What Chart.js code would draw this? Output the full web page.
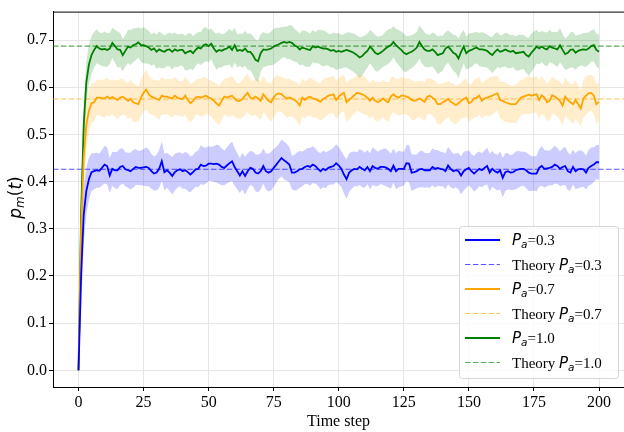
<!DOCTYPE html>
<html>
<head>
<meta charset="utf-8">
<script src="https://cdn.jsdelivr.net/npm/chart.js@4.4.1/dist/chart.umd.min.js"></script>
<style>
  body { margin: 0; background: #fff; }
</style>
</head>
<body>
<canvas id="chart" width="624" height="432"></canvas>
<script>
// Time steps 0..200 and the tick labels
const steps = Array.from({ length: 201 }, (_, i) => i);
const xTicks = [0, 25, 50, 75, 100, 125, 150, 175, 200];
const yTicks = [0.0, 0.1, 0.2, 0.3, 0.4, 0.5, 0.6, 0.7];

const paLabels = ['0.3', '0.7', '1.0'];
const theory = [0.426, 0.575, 0.687];

// mean p_m(t), P_a = 0.3
const meanPa03 = [
  0, .20, .33, .38, .405, .42, .422, .424, .423, .429,
  .436, .433, .413, .427, .424, .424, .431, .433, .426, .424,
  .422, .427, .431, .429, .429, .430, .431, .429, .422, .417,
  .419, .427, .443, .420, .424, .419, .412, .420, .424, .426,
  .422, .424, .420, .415, .420, .426, .427, .436, .433, .434,
  .438, .438, .437, .438, .436, .431, .429, .434, .439, .443,
  .431, .422, .413, .422, .412, .422, .429, .427, .419, .417,
  .422, .433, .422, .419, .422, .429, .436, .443, .450, .445,
  .441, .436, .419, .419, .422, .426, .427, .431, .433, .431,
  .436, .433, .427, .422, .427, .424, .429, .431, .433, .439,
  .434, .427, .415, .405, .419, .424, .427, .426, .431, .427,
  .424, .431, .422, .433, .429, .427, .431, .431, .430, .427,
  .422, .434, .422, .427, .427, .427, .439, .438, .419, .420,
  .422, .426, .427, .424, .424, .424, .431, .427, .429, .427,
  .426, .422, .434, .427, .422, .424, .422, .413, .422, .426,
  .429, .422, .417, .422, .427, .424, .429, .433, .419, .427,
  .422, .419, .424, .408, .420, .422, .419, .420, .424, .426,
  .427, .427, .424, .419, .417, .417, .417, .429, .433, .427,
  .428, .429, .431, .436, .433, .427, .431, .433, .422, .419,
  .431, .422, .426, .427, .426, .419, .429, .433, .436, .441,
  .441
];
const stdPa03 = [
  0, .08, .06, .05, .045, .040, .038, .037, .036, .038,
  .040, .039, .037, .036, .038, .040, .039, .037, .036, .037,
  .039, .040, .038, .036, .037, .039, .041, .039, .037, .036,
  .038, .040, .042, .039, .037, .038, .040, .039, .037, .036,
  .037, .039, .040, .038, .036, .037, .039, .041, .040, .038,
  .037, .036, .038, .040, .041, .039, .037, .038, .040, .042,
  .040, .038, .037, .039, .040, .038, .036, .037, .039, .040,
  .038, .037, .038, .040, .041, .040, .038, .037, .039, .040,
  .039, .037, .036, .038, .040, .039, .037, .036, .038, .040,
  .039, .037, .036, .038, .039, .038, .036, .037, .039, .040,
  .039, .038, .040, .042, .041, .039, .037, .036, .038, .039,
  .037, .036, .038, .040, .039, .037, .036, .038, .040, .039,
  .037, .036, .038, .039, .037, .036, .038, .040, .039, .037,
  .036, .038, .039, .037, .036, .037, .039, .040, .038, .037,
  .036, .038, .040, .039, .037, .036, .038, .040, .041, .039,
  .037, .036, .038, .039, .037, .036, .037, .039, .040, .038,
  .037, .038, .040, .042, .040, .038, .037, .038, .040, .039,
  .037, .036, .038, .039, .037, .036, .038, .040, .042, .040,
  .038, .037, .039, .040, .038, .037, .039, .041, .040, .038,
  .037, .038, .040, .039, .037, .036, .038, .039, .037, .036,
  .037
];

// mean p_m(t), P_a = 0.7
const meanPa07 = [
  0, .30, .45, .52, .55, .566, .568, .578, .578, .577,
  .576, .580, .576, .579, .576, .573, .578, .580, .576, .571,
  .575, .568, .566, .564, .578, .588, .595, .585, .580, .578,
  .575, .573, .582, .580, .580, .578, .576, .582, .578, .576,
  .575, .582, .573, .566, .571, .578, .580, .578, .580, .582,
  .578, .576, .571, .566, .561, .571, .580, .578, .580, .582,
  .576, .571, .571, .575, .582, .588, .578, .576, .580, .576,
  .571, .585, .578, .571, .568, .578, .585, .587, .585, .580,
  .576, .578, .576, .573, .569, .561, .578, .573, .578, .580,
  .576, .575, .572, .569, .575, .578, .582, .583, .585, .573,
  .580, .585, .588, .568, .573, .578, .583, .588, .587, .585,
  .582, .578, .571, .578, .571, .568, .571, .576, .571, .568,
  .580, .585, .580, .578, .582, .582, .580, .578, .573, .571,
  .573, .576, .573, .569, .580, .582, .578, .573, .564, .564,
  .568, .571, .575, .569, .566, .562, .566, .571, .575, .578,
  .566, .569, .576, .578, .582, .571, .576, .578, .580, .582,
  .585, .587, .573, .571, .568, .566, .564, .564, .564, .571,
  .578, .580, .582, .584, .582, .584, .585, .573, .583, .578,
  .568, .571, .583, .580, .576, .571, .561, .580, .573, .568,
  .564, .573, .564, .555, .576, .582, .587, .588, .582, .564,
  .569
];
const stdPa07 = [
  0, .07, .06, .05, .045, .042, .040, .038, .037, .039,
  .041, .040, .038, .037, .039, .041, .040, .038, .036, .038,
  .040, .041, .039, .037, .038, .040, .042, .040, .038, .037,
  .039, .041, .040, .038, .037, .039, .041, .040, .038, .036,
  .038, .040, .042, .041, .039, .037, .038, .040, .041, .039,
  .037, .038, .040, .042, .041, .039, .038, .040, .042, .041,
  .039, .037, .038, .040, .041, .040, .038, .037, .039, .041,
  .040, .038, .037, .039, .041, .042, .040, .038, .037, .039,
  .041, .040, .038, .039, .041, .043, .041, .039, .038, .040,
  .041, .039, .038, .040, .042, .041, .039, .038, .040, .041,
  .040, .038, .039, .041, .042, .040, .038, .037, .039, .041,
  .040, .038, .037, .039, .041, .042, .040, .039, .041, .042,
  .040, .038, .037, .039, .040, .039, .038, .040, .042, .041,
  .039, .038, .040, .041, .039, .037, .038, .040, .042, .043,
  .041, .039, .038, .040, .042, .041, .039, .038, .040, .041,
  .039, .038, .040, .041, .040, .038, .037, .039, .041, .040,
  .038, .037, .039, .041, .042, .041, .040, .039, .041, .040,
  .038, .037, .039, .040, .038, .037, .039, .041, .040, .038,
  .039, .041, .040, .038, .039, .041, .043, .041, .039, .040,
  .042, .041, .039, .038, .040, .041, .039, .038, .040, .042,
  .041
];

// mean p_m(t), P_a = 1.0
const meanPa10 = [
  0, .33, .52, .61, .648, .668, .679, .687, .682, .680,
  .681, .679, .682, .694, .687, .680, .679, .668, .677, .686,
  .684, .689, .691, .695, .689, .689, .687, .684, .679, .682,
  .675, .680, .677, .675, .679, .680, .675, .680, .677, .679,
  .679, .672, .675, .677, .672, .679, .684, .682, .689, .691,
  .687, .692, .682, .675, .679, .677, .680, .682, .686, .679,
  .689, .677, .679, .677, .682, .675, .675, .668, .658, .655,
  .672, .680, .679, .680, .682, .686, .689, .691, .694, .696,
  .694, .696, .694, .689, .686, .680, .684, .682, .680, .679,
  .687, .684, .686, .684, .682, .682, .680, .677, .679, .675,
  .677, .675, .677, .679, .677, .675, .672, .668, .663, .666,
  .672, .677, .686, .680, .673, .670, .673, .677, .682, .686,
  .689, .696, .689, .684, .679, .673, .670, .673, .675, .679,
  .684, .696, .687, .680, .677, .677, .680, .675, .668, .670,
  .672, .682, .686, .680, .673, .670, .661, .675, .686, .672,
  .677, .679, .682, .684, .680, .680, .679, .677, .672, .668,
  .675, .680, .675, .677, .680, .677, .675, .677, .672, .673,
  .674, .675, .668, .665, .673, .679, .686, .682, .686, .682,
  .680, .687, .684, .682, .680, .689, .679, .670, .673, .679,
  .680, .673, .677, .679, .680, .679, .682, .687, .689, .679,
  .675
];
const stdPa10 = [
  0, .06, .05, .045, .042, .040, .038, .036, .034, .035,
  .037, .036, .033, .032, .035, .038, .036, .034, .033, .035,
  .037, .036, .034, .032, .035, .038, .037, .035, .033, .034,
  .036, .038, .037, .035, .034, .036, .038, .036, .035, .033,
  .034, .037, .039, .038, .036, .034, .033, .035, .037, .036,
  .034, .033, .035, .038, .037, .035, .034, .036, .038, .039,
  .037, .035, .034, .036, .037, .038, .039, .041, .043, .044,
  .040, .037, .035, .034, .036, .038, .037, .035, .033, .032,
  .034, .036, .037, .035, .033, .034, .036, .038, .037, .035,
  .034, .033, .035, .037, .038, .036, .034, .035, .037, .039,
  .038, .036, .035, .037, .039, .040, .041, .042, .043, .041,
  .038, .036, .035, .037, .038, .037, .035, .034, .036, .037,
  .035, .033, .035, .037, .039, .040, .038, .036, .035, .034,
  .033, .035, .037, .036, .035, .034, .036, .038, .040, .039,
  .037, .035, .034, .036, .038, .040, .042, .039, .036, .035,
  .037, .036, .034, .033, .035, .037, .036, .035, .036, .038,
  .039, .037, .035, .034, .036, .037, .035, .034, .036, .038,
  .037, .036, .038, .040, .041, .039, .036, .034, .033, .035,
  .036, .034, .033, .035, .037, .036, .034, .033, .035, .037,
  .038, .036, .034, .033, .035, .036, .034, .033, .034, .035,
  .036
];

const means = [meanPa03, meanPa07, meanPa10];
const stds = [stdPa03, stdPa07, stdPa10];
const lineColors = ['rgb(0, 0, 255)', 'rgb(255, 165, 0)', 'rgb(0, 128, 0)'];
const theoryColors = ['rgba(0, 0, 255, 0.65)', 'rgba(255, 165, 0, 0.65)', 'rgba(0, 128, 0, 0.65)'];
const bandColors = ['rgba(0, 0, 255, 0.2)', 'rgba(255, 165, 0, 0.2)', 'rgba(0, 128, 0, 0.2)'];

const xMin = -9.8, xMax = 209.6;
const yMin = -0.0353, yMax = 0.7602;

// build the datasets
const datasets = [];
means.forEach((m, k) => {
    datasets.push({
        data: m.map((v, i) => ({ x: steps[i], y: v })),
        borderColor: lineColors[k], borderWidth: 1.8,
        pointRadius: 0, fill: false, order: 0
    });
    datasets.push({
        data: [{ x: xMin, y: theory[k] }, { x: xMax, y: theory[k] }],
        borderColor: theoryColors[k], borderWidth: 1.1, borderDash: [5.5, 2.4],
        pointRadius: 0, fill: false, order: 1
    });
});
means.forEach((m, k) => {
    // upper edge fills down to the next dataset (lower edge)
    datasets.push({
        data: m.map((v, i) => ({ x: steps[i], y: v + stds[k][i] })),
        borderWidth: 0, borderColor: 'transparent', backgroundColor: bandColors[k],
        pointRadius: 0, fill: '+1', order: 2
    });
    datasets.push({
        data: m.map((v, i) => ({ x: steps[i], y: v - stds[k][i] })),
        borderWidth: 0, borderColor: 'transparent',
        pointRadius: 0, fill: false, order: 2
    });
});

const serif = 'Liberation Serif';
const sans = 'DejaVu Sans';

// draws top spine, y axis label and the legend
const extras = {
    id: 'extras',
    afterDraw(chart) {
        const ctx = chart.ctx;
        const area = chart.chartArea;
        ctx.save();

        // top spine
        ctx.strokeStyle = '#000';
        ctx.lineWidth = 1;
        ctx.beginPath();
        ctx.moveTo(area.left, area.top + 0.5);
        ctx.lineTo(area.right, area.top + 0.5);
        ctx.stroke();

        // y label p_m(t)
        ctx.save();
        ctx.translate(21, 197.5);
        ctx.rotate(-Math.PI / 2);
        ctx.fillStyle = '#000';
        ctx.textBaseline = 'alphabetic';
        const parts = [
            { t: 'p', f: 'italic 17px ' + sans, dy: 0 },
            { t: 'm', f: 'italic 12px ' + sans, dy: 3 },
            { t: '(', f: '17px ' + sans, dy: 0 },
            { t: 't', f: 'italic 17px ' + sans, dy: 0 },
            { t: ')', f: '17px ' + sans, dy: 0 }
        ];
        let w = 0;
        parts.forEach(p => { ctx.font = p.f; w += ctx.measureText(p.t).width; });
        let x = -w / 2;
        parts.forEach(p => {
            ctx.font = p.f;
            ctx.fillText(p.t, x, p.dy);
            x += ctx.measureText(p.t).width;
        });
        ctx.restore();

        // legend
        const bx = 459.5, by = 226.5, bw = 159, bh = 152;
        ctx.beginPath();
        ctx.roundRect(bx, by, bw, bh, 3);
        ctx.fillStyle = 'rgba(255,255,255,0.8)';
        ctx.fill();
        ctx.strokeStyle = '#d6d6d6';
        ctx.lineWidth = 1;
        ctx.stroke();

        const rowH = 24.5;
        for (let r = 0; r < 6; r++) {
            const k = Math.floor(r / 2);
            const isTheory = r % 2 === 1;
            const cy = 240 + r * rowH;
            ctx.beginPath();
            ctx.moveTo(465, cy);
            ctx.lineTo(500, cy);
            if (isTheory) {
                ctx.strokeStyle = theoryColors[k];
                ctx.lineWidth = 1.1;
                ctx.setLineDash([5.5, 2.4]);
            } else {
                ctx.strokeStyle = lineColors[k];
                ctx.lineWidth = 1.8;
                ctx.setLineDash([]);
            }
            ctx.stroke();
            ctx.setLineDash([]);

            ctx.fillStyle = '#000';
            let tx = 512;
            const base = cy + 5;
            if (isTheory) {
                ctx.font = '15px ' + serif;
                ctx.fillText('Theory ', tx, base);
                tx += ctx.measureText('Theory ').width;
            }
            ctx.font = 'italic 15px ' + sans;
            ctx.fillText('P', tx, base);
            tx += ctx.measureText('P').width;
            ctx.font = 'italic 10.5px ' + sans;
            ctx.fillText('a', tx, base + 3);
            tx += ctx.measureText('a').width;
            ctx.font = '15px ' + serif;
            ctx.fillText('=' + paLabels[k], tx, base);
        }
        ctx.restore();
    }
};

new Chart(document.getElementById('chart'), {
    type: 'line',
    data: { datasets },
    options: {
        responsive: false,
        animation: false,
        devicePixelRatio: 1,
        layout: { padding: { top: 4, right: 0, bottom: 0, left: 0 } },
        plugins: { legend: { display: false }, tooltip: { enabled: false } },
        scales: {
            x: {
                type: 'linear', min: xMin, max: xMax,
                afterBuildTicks: s => { s.ticks = xTicks.map(v => ({ value: v })); },
                afterFit: s => { s.height = 45; },
                grid: { color: '#e6e6e6', tickColor: '#000', tickLength: 4, tickWidth: 1 },
                border: { display: true, color: '#000', width: 1 },
                ticks: { color: '#000', font: { family: serif, size: 16 }, padding: 2, maxRotation: 0 },
                title: { display: true, text: 'Time step', color: '#000', font: { family: serif, size: 16 }, padding: { top: 0, bottom: 1 } }
            },
            y: {
                type: 'linear', min: yMin, max: yMax,
                afterBuildTicks: s => { s.ticks = yTicks.map(v => ({ value: v })); },
                afterFit: s => { s.width = 53; },
                grid: { color: '#e6e6e6', tickColor: '#000', tickLength: 4, tickWidth: 1 },
                border: { display: true, color: '#000', width: 1 },
                ticks: { color: '#000', font: { family: serif, size: 16 }, padding: 2, callback: v => v.toFixed(1) }
            }
        }
    },
    plugins: [extras]
});
</script>
</body>
</html>
